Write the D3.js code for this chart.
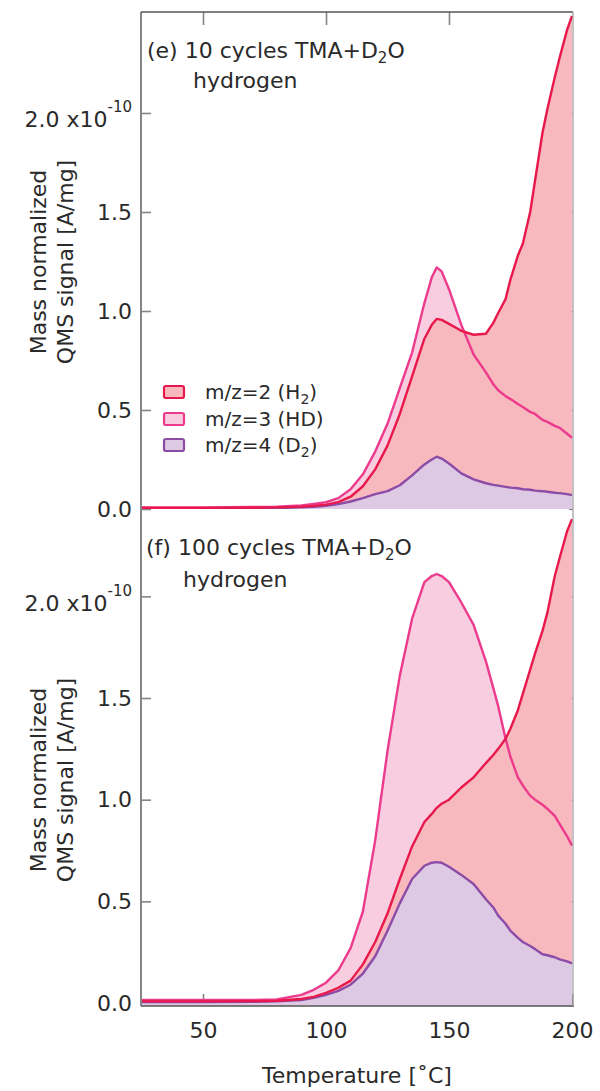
<!DOCTYPE html>
<html>
<head>
<meta charset="utf-8">
<script src="https://cdn.jsdelivr.net/npm/d3@7"></script>
<style>
  html, body { margin: 0; padding: 0; background: #fff; }
  svg { display: block; font-family: "DejaVu Sans", sans-serif; }
</style>
</head>
<body>
<svg id="chart" width="600" height="1091"></svg>
<script>
// ---------------- data ----------------
const temps = [25, 50, 70, 80, 90, 95, 100, 105, 110, 115, 120, 125, 130, 135, 140, 143, 145, 147, 150, 155, 160, 165, 168, 170, 173, 175, 178, 180, 183, 185, 188, 190, 193, 195, 198, 200];

// panel (e) 10 cycles, units of 1e-10 A/mg
const e_H2 = [.005, .005, .006, .008, .012, .016, .022, .035, .062, .115, .20, .32, .48, .67, .86, .93, .96, .955, .935, .90, .88, .885, .94, .99, 1.06, 1.16, 1.28, 1.34, 1.50, 1.66, 1.90, 2.02, 2.18, 2.28, 2.42, 2.49];
const e_HD = [.008, .008, .01, .012, .018, .025, .035, .055, .10, .175, .29, .43, .61, .79, 1.04, 1.17, 1.22, 1.20, 1.11, .93, .78, .69, .63, .60, .57, .555, .53, .515, .49, .48, .45, .44, .42, .41, .38, .36];
const e_D2 = [.003, .003, .004, .005, .008, .011, .016, .025, .038, .055, .075, .09, .12, .17, .225, .25, .264, .255, .23, .18, .15, .13, .122, .118, .112, .108, .105, .10, .097, .093, .09, .087, .082, .08, .075, .07];

// panel (f) 100 cycles
const f_H2 = [.008, .008, .009, .011, .02, .03, .05, .075, .11, .19, .30, .44, .61, .77, .89, .93, .96, .98, 1.00, 1.06, 1.11, 1.18, 1.22, 1.25, 1.30, 1.35, 1.44, 1.52, 1.64, 1.72, 1.83, 1.92, 2.10, 2.19, 2.32, 2.38];
const f_HD = [.015, .015, .015, .018, .04, .065, .10, .16, .27, .45, .80, 1.24, 1.61, 1.89, 2.07, 2.10, 2.11, 2.10, 2.07, 1.97, 1.86, 1.68, 1.55, 1.46, 1.30, 1.21, 1.11, 1.07, 1.02, 1.00, .975, .955, .92, .88, .82, .775];
const f_D2 = [.005, .005, .006, .008, .015, .025, .04, .06, .09, .145, .23, .355, .49, .61, .675, .69, .693, .69, .67, .63, .585, .51, .47, .43, .39, .355, .32, .30, .28, .265, .24, .235, .225, .215, .205, .195];

const xTicks = [50, 100, 150, 200];
const yTicks = [0, 0.5, 1.0, 1.5, 2.0];
const seriesNames = ["H2", "HD", "D2"];
const legendLabels = [["m/z=2 (H", "2", ")"], ["m/z=3 (HD)", "", ""], ["m/z=4 (D", "2", ")"]];
const panelTitles = [["(e) 10 cycles TMA+D", "2", "O"], ["(f) 100 cycles TMA+D", "2", "O"]];
const subtitle = "hydrogen";
const yLabel1 = "Mass normalized";
const yLabel2 = "QMS signal [A/mg]";
const xLabel = "Temperature [\u02DAC]";

// ---------------- style ----------------
const lineColor = { H2: "#e8184c", HD: "#ec3a8d", D2: "#8b4ba6" };
const fillColor = { H2: "#f7b9be", HD: "#f8cde0", D2: "#ddc9e3" };
const axisColor = "#858585";
const textColor = "#2a2a2a";

const svg = d3.select("#chart");
const x = d3.scaleLinear().domain([25, 200]).range([141.5, 572]);

const panels = [
  { id: "e", H2: e_H2, HD: e_HD, D2: e_D2, y: d3.scaleLinear().domain([0, 2.51]).range([509, 12]), top: 12, bottom: 509, title: panelTitles[0], tx: 147, ty: 58, sx: 193, sy: 88, labelY: 262 },
  { id: "f", H2: f_H2, HD: f_HD, D2: f_D2, y: d3.scaleLinear().domain([0, 2.41]).range([1003, 513]), top: 512, bottom: 1006, title: panelTitles[1], tx: 146, ty: 555, sx: 183, sy: 587, labelY: 780 }
];

const left = 141, right = 573;

panels.forEach((p, pi) => {
  const g = svg.append("g");
  // y axis ticks (inward) - drawn beneath fills
  const yAxis = d3.axisLeft(p.y).tickValues(yTicks).tickSize(-10).tickPadding(9).tickSizeOuter(0)
    .tickFormat(d3.format(".1f"));
  const ya = g.append("g").attr("transform", `translate(${left},0)`).call(yAxis);
  ya.select(".domain").remove();
  ya.selectAll(".tick line").attr("stroke", axisColor).attr("stroke-width", 1.6);
  ya.selectAll(".tick text").attr("fill", textColor).attr("font-size", 22).attr("font-family", "DejaVu Sans");
  ya.selectAll(".tick").filter(d => d === 2.0).select("text").each(function () {
    const t = d3.select(this);
    t.text(null).attr("dy", null).attr("y", 14);
    t.append("tspan").text("2.0 x10");
    t.append("tspan").attr("font-size", 15).attr("dy", -15).text("-10");
  });
  // right frame ticks
  const yr = d3.axisRight(p.y).tickValues(yTicks).tickSize(-4).tickFormat("").tickSizeOuter(0);
  const yra = g.append("g").attr("transform", `translate(${right},0)`).call(yr);
  yra.select(".domain").remove();
  yra.selectAll(".tick line").attr("stroke", axisColor).attr("stroke-width", 1.2);

  if (pi === 0) {
    const xt = d3.axisTop(x).tickValues([50, 100, 150]).tickSize(-13).tickFormat("").tickSizeOuter(0);
    const xta = g.append("g").attr("transform", `translate(0,${p.top})`).call(xt);
    xta.select(".domain").remove();
    xta.selectAll(".tick line").attr("stroke", axisColor).attr("stroke-width", 1.6);
  } else {
    const xb = d3.axisBottom(x).tickValues(xTicks).tickSize(-12).tickPadding(16).tickSizeOuter(0).tickFormat(d3.format("d"));
    const xba = g.append("g").attr("transform", `translate(0,${p.bottom})`).call(xb);
    xba.select(".domain").remove();
    xba.selectAll(".tick line").attr("stroke", axisColor).attr("stroke-width", 1.6);
    xba.selectAll(".tick text").attr("fill", textColor).attr("font-size", 22).attr("font-family", "DejaVu Sans");
  }

  // clip
  const clipId = "clip-" + p.id;
  svg.append("clipPath").attr("id", clipId).append("rect")
    .attr("x", left).attr("y", p.top).attr("width", right - left).attr("height", p.bottom - p.top);
  const plot = svg.append("g").attr("clip-path", `url(#${clipId})`);

  const area = vals => d3.area().x((d, i) => x(temps[i])).y0(pi === 0 ? p.y(0) : p.bottom).y1(d => p.y(d))(vals);
  const line = vals => d3.line().x((d, i) => x(temps[i])).y(d => p.y(d))(vals);

  ["HD", "H2", "D2"].forEach(s => {
    plot.append("path").attr("d", area(p[s])).attr("fill", fillColor[s]).attr("stroke", "none");
  });
  ["D2", "HD", "H2"].forEach(s => {
    plot.append("path").attr("d", line(p[s])).attr("fill", "none").attr("stroke", lineColor[s])
      .attr("stroke-width", 2.4).attr("stroke-linejoin", "round");
  });

  // titles
  const t = svg.append("text").attr("x", p.tx).attr("y", p.ty).attr("font-size", 22).attr("fill", textColor);
  t.append("tspan").text(p.title[0]);
  t.append("tspan").attr("font-size", 15).attr("dy", 5).text(p.title[1]);
  t.append("tspan").attr("dy", -5).text(p.title[2]);
  svg.append("text").attr("x", p.sx).attr("y", p.sy).attr("font-size", 22).attr("fill", textColor).text(subtitle);

  // y label
  const yl = svg.append("g").attr("transform", `translate(0,${p.labelY}) rotate(-90)`);
  yl.append("text").attr("x", 0).attr("y", 46).attr("text-anchor", "middle").attr("font-size", 22).attr("fill", textColor).text(yLabel1);
  yl.append("text").attr("x", 0).attr("y", 73).attr("text-anchor", "middle").attr("font-size", 22).attr("fill", textColor).text(yLabel2);
});

// frame lines
svg.append("line").attr("x1", left).attr("x2", left).attr("y1", 12).attr("y2", 1006).attr("stroke", axisColor).attr("stroke-width", 2);
svg.append("line").attr("x1", left).attr("x2", right).attr("y1", 12).attr("y2", 12).attr("stroke", "#555").attr("stroke-width", 1.6);
svg.append("line").attr("x1", left).attr("x2", right + 1).attr("y1", 1006).attr("y2", 1006).attr("stroke", "#555").attr("stroke-width", 1.6);
svg.append("line").attr("x1", right).attr("x2", right).attr("y1", 12).attr("y2", 1006).attr("stroke", "#9a9a9a").attr("stroke-width", 1.2);

// x label
svg.append("text").attr("x", 357).attr("y", 1083).attr("text-anchor", "middle").attr("font-size", 22).attr("fill", textColor).text(xLabel);

// legend
const legendRows = [392, 419, 445];
seriesNames.forEach((s, i) => {
  const yy = legendRows[i];
  svg.append("rect").attr("x", 164).attr("y", yy - 6).attr("width", 20).attr("height", 12).attr("rx", 2)
    .attr("fill", fillColor[s]).attr("stroke", lineColor[s]).attr("stroke-width", 2.2);
  const lt = svg.append("text").attr("x", 205).attr("y", yy + 7).attr("font-size", 20).attr("fill", textColor);
  lt.append("tspan").text(legendLabels[i][0]);
  if (legendLabels[i][1]) {
    lt.append("tspan").attr("font-size", 14).attr("dy", 5).text(legendLabels[i][1]);
    lt.append("tspan").attr("dy", -5).text(legendLabels[i][2]);
  }
});
</script>
</body>
</html>
